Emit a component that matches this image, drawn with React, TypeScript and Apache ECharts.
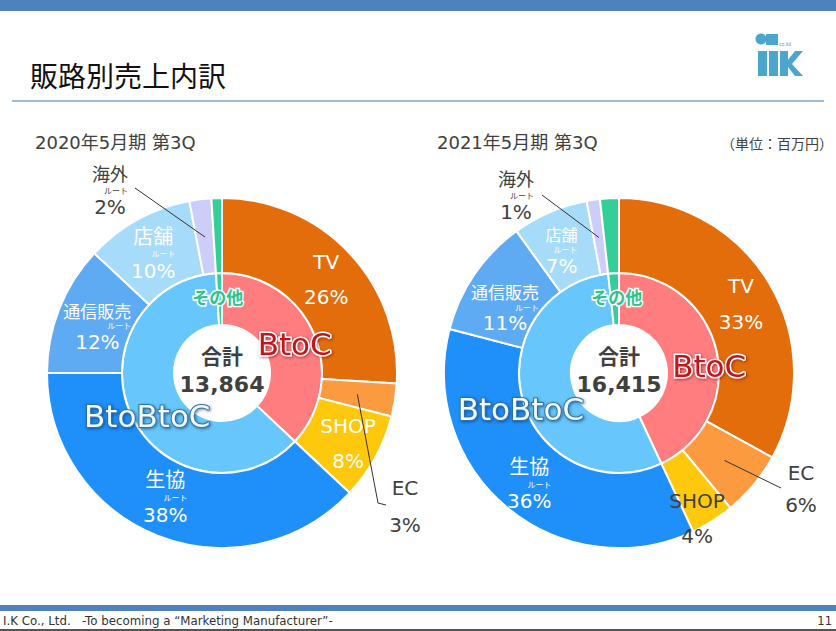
import React, { useEffect, useRef } from 'react';
import * as echarts from 'echarts';

// ---- data ----
const outerNames = ['TV', 'EC', 'SHOP', '生協', '通信販売', '店舗', '海外', 'その他'];
const outerColors = ['#e36c0b', '#fb9a3f', '#fec80d', '#1f8ffa', '#5fabf3', '#a6dcfa', '#cdcdfa', '#34cf98'];
const values2020 = [3600, 420, 1110, 5270, 1660, 1390, 280, 134];
const values2021 = [5420, 985, 660, 5910, 1805, 1150, 200, 285];
const innerNames = ['BtoC', 'BtoBtoC', 'その他'];
const innerColors = ['#ff7c7f', '#67c6fb', '#34cf98'];
const innerGroups = [[0, 1, 2], [3, 4, 5, 6], [7]];
const periodTitles = ['2020年5月期 第3Q', '2021年5月期 第3Q'];
const routeNames = ['生協', '通信販売', '店舗', '海外'];
const outsideNames = ['EC', '海外'];

const FONT = "'DejaVu Sans','Noto Sans CJK JP',sans-serif";
const JP = "'Noto Sans CJK JP',sans-serif";

type LabelCfg = { gap: number; off?: number[]; size?: number; dark?: boolean };
type Cfg = {
  cx: number; cy: number; values: number[];
  innerOffsets: number[][];
  labels: Record<string, LabelCfg>;
  outside: Record<string, { pos: number[]; line: number[][] }>;
};

const charts: Cfg[] = [
  {
    cx: 222, cy: 373, values: values2020,
    innerOffsets: [[2, 2], [-5, 10], [-2, 0]],
    labels: {
      TV: { gap: 35, off: [2, 3] },
      EC: { gap: 37 },
      SHOP: { gap: 35, off: [3, 3] },
      '生協': { gap: 35, off: [-5, -6] },
      '通信販売': { gap: 30, off: [6, 6], size: 17 },
      '店舗': { gap: 34, off: [-1, 4] },
      '海外': { gap: 32, size: 18 },
    },
    outside: {
      EC: { pos: [405, 506], line: [[378, 503], [386, 505]] },
      '海外': { pos: [110, 191], line: [[135, 188]] },
    },
  },
  {
    cx: 619, cy: 373, values: values2021,
    innerOffsets: [[15, 10], [-24, 15], [2, 0]],
    labels: {
      TV: { gap: 36, off: [1, 2] },
      EC: { gap: 32 },
      SHOP: { gap: 35, off: [3, 27], dark: true },
      '生協': { gap: 34, off: [0, 3] },
      '通信販売': { gap: 30, off: [2, 15], size: 17 },
      '店舗': { gap: 31, off: [-2, 8], size: 16 },
      '海外': { gap: 32, size: 18 },
    },
    outside: {
      EC: { pos: [801, 489], line: [[781, 488]] },
      '海外': { pos: [516, 196], line: [[542, 195]] },
    },
  },
];

function makeLabel(name: string, lc: LabelCfg, color: string) {
  const size = lc.size || 20;
  const route = routeNames.includes(name);
  const nlh = route ? size : lc.gap;
  const plh = route ? 20 : lc.gap;
  const slh = route ? Math.max(lc.gap - nlh / 2 - plh / 2, 9) : 0;
  return {
    formatter: (p: any) => {
      const pct = Math.round(p.percent) + '%';
      return route ? `{n|${p.name}}\n{s|ルート}\n{p|${pct}}` : `{n|${p.name}}\n{p|${pct}}`;
    },
    offset: lc.off || [0, 0],
    rich: {
      n: { fontSize: size, color, lineHeight: nlh, fontFamily: FONT },
      s: { fontSize: 8, color, lineHeight: slh, align: 'right', fontFamily: JP },
      p: { fontSize: 20, color, lineHeight: plh, fontFamily: FONT },
    },
  };
}

function buildSeries(cfg: Cfg) {
  const total = cfg.values.reduce((a, b) => a + b, 0);
  const mids: number[] = [];
  let cum = 0;
  cfg.values.forEach((v) => { mids.push(((cum + v / 2) / total) * Math.PI * 2); cum += v; });

  const outerData = outerNames.map((name, i) => {
    const lc = cfg.labels[name];
    const inside = !!lc && !outsideNames.includes(name);
    const color = lc && lc.dark ? '#404040' : '#ffffff';
    return {
      name, value: cfg.values[i],
      itemStyle: { color: outerColors[i] },
      label: inside ? { show: true, position: 'inside', ...makeLabel(name, lc, color) } : { show: false },
    };
  });
  const outer: any = {
    type: 'pie', center: [cfg.cx, cfg.cy], radius: [100, 175],
    startAngle: 90, clockwise: true, avoidLabelOverlap: false,
    itemStyle: { borderColor: '#fff', borderWidth: 2 },
    emphasis: { disabled: true },
    labelLine: { show: false },
    data: outerData,
  };

  // overlay (transparent) series carrying the outside labels so leader lines sit above slices
  const overlay: any = {
    type: 'pie', center: [cfg.cx, cfg.cy], radius: [100, 175], z: 6,
    startAngle: 90, clockwise: true, avoidLabelOverlap: false, silent: true,
    itemStyle: { color: 'rgba(0,0,0,0)', borderWidth: 0 },
    emphasis: { disabled: true },
    data: outerNames.map((name, i) => {
      const isOut = outsideNames.includes(name);
      return {
        name, value: cfg.values[i],
        label: isOut
          ? { show: true, position: 'outside', ...makeLabel(name, cfg.labels[name], '#404040') }
          : { show: false },
        labelLine: { show: isOut, lineStyle: { color: '#333', width: 1 } },
      };
    }),
    labelLayout: (params: any) => {
      const name = outerNames[params.dataIndex];
      const o = cfg.outside[name];
      if (!o) return {};
      const a = mids[params.dataIndex];
      const R = 137;
      const start = [cfg.cx + R * Math.sin(a), cfg.cy - R * Math.cos(a)];
      return {
        x: o.pos[0], y: o.pos[1], align: 'center', verticalAlign: 'middle',
        labelLinePoints: [start, ...o.line],
      };
    },
  };

  const innerValues = innerGroups.map((g) => g.reduce((s, k) => s + cfg.values[k], 0));
  const innerLabelStyles: any[] = [
    {
      fontSize: 31, fontFamily: FONT, color: '#c3161c',
      textBorderColor: '#ffffff', textBorderWidth: 3,
      textShadowColor: 'rgba(80,0,0,0.55)', textShadowBlur: 3, textShadowOffsetX: 1, textShadowOffsetY: 1,
    },
    {
      fontSize: 31, fontFamily: FONT, color: '#f3fbff',
      textBorderColor: '#2f6fa6', textBorderWidth: 2,
      textShadowColor: 'rgba(0,40,90,0.55)', textShadowBlur: 3, textShadowOffsetX: 1, textShadowOffsetY: 1,
    },
    {
      fontSize: 17, fontWeight: 'bold', fontFamily: JP, color: '#2cc48c',
      textBorderColor: '#ffffff', textBorderWidth: 3,
    },
  ];
  const inner: any = {
    type: 'pie', center: [cfg.cx, cfg.cy], radius: [48, 100],
    startAngle: 90, clockwise: true, avoidLabelOverlap: false,
    itemStyle: { borderColor: '#fff', borderWidth: 2 },
    emphasis: { disabled: true },
    labelLine: { show: false },
    data: innerNames.map((name, i) => ({
      name, value: innerValues[i],
      itemStyle: { color: innerColors[i] },
      label: {
        show: true, position: 'inside', formatter: '{b}',
        offset: cfg.innerOffsets[i],
        ...innerLabelStyles[i],
      },
    })),
  };
  return { series: [inner, outer, overlay], total };
}

function logoGraphics(): any[] {
  const c = '#4aa6cd';
  return [
    { type: 'circle', shape: { cx: 761, cy: 39, r: 5.5 }, style: { fill: c } },
    { type: 'rect', shape: { x: 766, y: 34, width: 12, height: 11 }, style: { fill: c } },
    { type: 'text', x: 779, y: 41, style: { text: 'co.ltd', fontSize: 5, fill: c, fontFamily: 'Liberation Sans' } },
    { type: 'rect', shape: { x: 758, y: 51, width: 9, height: 25 }, style: { fill: c } },
    { type: 'rect', shape: { x: 769, y: 51, width: 9, height: 25 }, style: { fill: c } },
    { type: 'rect', shape: { x: 780, y: 51, width: 8, height: 25 }, style: { fill: c } },
    { type: 'polygon', shape: { points: [[788, 60], [795, 51], [803, 51], [792, 64], [803, 76], [795, 76], [788, 67]] }, style: { fill: c } },
  ];
}

export default function App() {
  const ref = useRef<HTMLDivElement>(null);
  useEffect(() => {
    document.body.style.margin = '0';
    if (!ref.current) return;
    const chart = echarts.init(ref.current, undefined, { renderer: 'svg' });
    const series: any[] = [];
    const graphic: any[] = [
      { type: 'rect', shape: { x: 0, y: 0, width: 836, height: 11 }, style: { fill: '#4f81bd' } },
      { type: 'text', x: 30, y: 75, style: { text: '販路別売上内訳', fontSize: 28, fill: '#111', fontFamily: JP, verticalAlign: 'middle' } },
      { type: 'line', shape: { x1: 12, y1: 101, x2: 824, y2: 101 }, style: { stroke: '#9dbbd7', lineWidth: 2 } },
      ...logoGraphics(),
      { type: 'text', x: 833, y: 143, style: { text: '（単位：百万円）', fontSize: 14, fill: '#404040', fontFamily: JP, align: 'right', verticalAlign: 'middle' } },
      { type: 'rect', shape: { x: 0, y: 605, width: 836, height: 6 }, style: { fill: '#4f81bd' } },
      { type: 'text', x: 3, y: 621, style: { text: 'I.K Co., Ltd.   -To becoming a “Marketing Manufacturer”-', fontSize: 11.8, fill: '#333', fontFamily: 'DejaVu Sans', verticalAlign: 'middle' } },
      { type: 'text', x: 832, y: 621, style: { text: '11', fontSize: 11.5, fill: '#333', fontFamily: 'DejaVu Sans', align: 'right', verticalAlign: 'middle' } },
      { type: 'rect', shape: { x: 0, y: 629, width: 836, height: 2 }, style: { fill: '#555' } },
    ];
    charts.forEach((cfg, idx) => {
      const b = buildSeries(cfg);
      series.push(...b.series);
      graphic.push(
        { type: 'text', x: idx === 0 ? 35 : 437, y: 142, style: { text: periodTitles[idx], fontSize: 18, fill: '#404040', fontFamily: FONT, verticalAlign: 'middle' } },
        { type: 'text', x: cfg.cx, y: cfg.cy - 18, z: 10, style: { text: '合計', fontSize: 21, fontWeight: 'bold', fill: '#404040', fontFamily: JP, align: 'center', verticalAlign: 'middle' } },
        { type: 'text', x: cfg.cx, y: cfg.cy + 11, z: 10, style: { text: b.total.toLocaleString('en-US'), fontSize: 22, fontWeight: 'bold', fill: '#404040', fontFamily: FONT, align: 'center', verticalAlign: 'middle' } },
      );
    });
    chart.setOption({
      animation: false,
      backgroundColor: '#ffffff',
      series,
      graphic,
    });
    return () => chart.dispose();
  }, []);
  return <div ref={ref} style={{ position: 'absolute', left: 0, top: 0, width: 836, height: 631 }} />;
}
